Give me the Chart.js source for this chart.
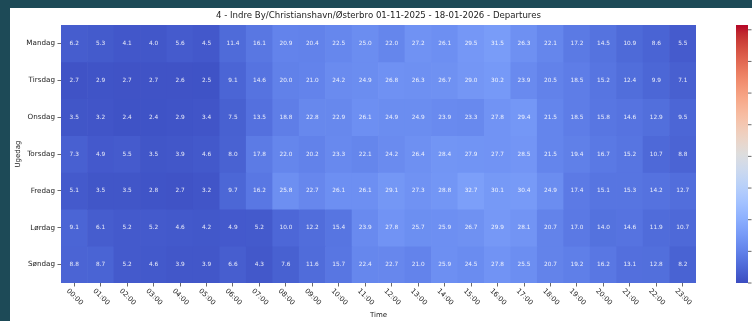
<!DOCTYPE html>
<html>
<head>
<meta charset="utf-8">
<script src="https://cdn.jsdelivr.net/npm/chart.js@4.4.1/dist/chart.umd.min.js"></script>
<style>
    html, body { margin: 0; padding: 0; }
    body { width: 752px; height: 321px; background: #1d4a57; position: relative; overflow: hidden; }
    .panel { position: absolute; left: 10px; top: 8px; width: 742px; height: 313px; background: #fff; }
    canvas { display: block; }
</style>
</head>
<body>
<div class="panel"><canvas id="heatmap" width="742" height="313"></canvas></div>
<script>
const title = '4 - Indre By/Christianshavn/Østerbro 01-11-2025 - 18-01-2026 - Departures';
const days = ['Mandag', 'Tirsdag', 'Onsdag', 'Torsdag', 'Fredag', 'Lørdag', 'Søndag'];
const hours = ['00:00', '01:00', '02:00', '03:00', '04:00', '05:00', '06:00', '07:00',
    '08:00', '09:00', '10:00', '11:00', '12:00', '13:00', '14:00', '15:00',
    '16:00', '17:00', '18:00', '19:00', '20:00', '21:00', '22:00', '23:00'];

const mandag  = [6.2, 5.3, 4.1, 4.0, 5.6, 4.5, 11.4, 16.1, 20.9, 20.4, 22.5, 25.0, 22.0, 27.2, 26.1, 29.5, 31.5, 26.3, 22.1, 17.2, 14.5, 10.9, 8.6, 5.5];
const tirsdag = [2.7, 2.9, 2.7, 2.7, 2.6, 2.5, 9.1, 14.6, 20.0, 21.0, 24.2, 24.9, 26.8, 26.3, 26.7, 29.0, 30.2, 23.9, 20.5, 18.5, 15.2, 12.4, 9.9, 7.1];
const onsdag  = [3.5, 3.2, 2.4, 2.4, 2.9, 3.4, 7.5, 13.5, 18.8, 22.8, 22.9, 26.1, 24.9, 24.9, 23.9, 23.3, 27.8, 29.4, 21.5, 18.5, 15.8, 14.6, 12.9, 9.5];
const torsdag = [7.3, 4.9, 5.5, 3.5, 3.9, 4.6, 8.0, 17.8, 22.0, 20.2, 23.3, 22.1, 24.2, 26.4, 28.4, 27.9, 27.7, 28.5, 21.5, 19.4, 16.7, 15.2, 10.7, 8.8];
const fredag  = [5.1, 3.5, 3.5, 2.8, 2.7, 3.2, 9.7, 16.2, 25.8, 22.7, 26.1, 26.1, 29.1, 27.3, 28.8, 32.7, 30.1, 30.4, 24.9, 17.4, 15.1, 15.3, 14.2, 12.7];
const loerdag = [9.1, 6.1, 5.2, 5.2, 4.6, 4.2, 4.9, 5.2, 10.0, 12.2, 15.4, 23.9, 27.8, 25.7, 25.9, 26.7, 29.9, 28.1, 20.7, 17.0, 14.0, 14.6, 11.9, 10.7];
const soendag = [8.8, 8.7, 5.2, 4.6, 3.9, 3.9, 6.6, 4.3, 7.6, 11.6, 15.7, 22.4, 22.7, 21.0, 25.9, 24.5, 27.8, 25.5, 20.7, 19.2, 16.2, 13.1, 12.8, 8.2];
const rows = [mandag, tirsdag, onsdag, torsdag, fredag, loerdag, soendag];

// colour scale (shared scale, colorbar is cut off on the right)
const colorMin = 0;
const colorMax = 163;
const colorTicks = [0, 20, 40, 60, 80, 100, 120, 140, 160];

// matplotlib coolwarm
const coolwarmStops = [
    [59, 76, 192], [68, 90, 204], [77, 104, 215], [87, 117, 225], [98, 130, 234],
    [108, 142, 241], [119, 154, 247], [130, 165, 251], [141, 176, 254], [152, 185, 255],
    [163, 194, 255], [174, 201, 253], [184, 208, 249], [194, 213, 244], [204, 217, 238],
    [213, 219, 230], [221, 221, 221], [229, 216, 209], [236, 211, 197], [241, 204, 185],
    [245, 196, 173], [247, 187, 160], [247, 177, 148], [247, 166, 135], [244, 154, 123],
    [241, 141, 111], [236, 127, 99], [229, 112, 88], [222, 96, 77], [213, 80, 66],
    [203, 62, 56], [192, 40, 47], [180, 4, 38]
];

function coolwarm(t) {
    t = Math.max(0, Math.min(1, t));
    const pos = t * (coolwarmStops.length - 1);
    const i = Math.min(Math.floor(pos), coolwarmStops.length - 2);
    const f = pos - i;
    const a = coolwarmStops[i], b = coolwarmStops[i + 1];
    const c = a.map((v, k) => Math.round(v + (b[k] - v) * f));
    return `rgb(${c[0]}, ${c[1]}, ${c[2]})`;
}

const valueColor = v => coolwarm((v - colorMin) / (colorMax - colorMin));

const FONT = "'DejaVu Sans', sans-serif";
const TEXT = '#222222';

const cellLabels = {
    id: 'cellLabels',
    afterDatasetsDraw(chart) {
        const ctx = chart.ctx;
        ctx.save();
        ctx.font = `5.8px ${FONT}`;
        ctx.fillStyle = 'rgba(255, 255, 255, 0.88)';
        ctx.textAlign = 'center';
        ctx.textBaseline = 'middle';
        chart.data.datasets.forEach((ds, i) => {
            chart.getDatasetMeta(i).data.forEach((bar, j) => {
                ctx.fillText(rows[i][j].toFixed(1), bar.x, (bar.y + bar.base) / 2);
            });
        });
        ctx.restore();
    }
};

const rotatedHours = {
    id: 'rotatedHours',
    afterDraw(chart) {
        const scale = chart.scales.x;
        const ctx = chart.ctx;
        const y = chart.chartArea.bottom + 14;
        ctx.save();
        ctx.font = `7px ${FONT}`;
        ctx.fillStyle = TEXT;
        ctx.textAlign = 'center';
        ctx.textBaseline = 'middle';
        hours.forEach((h, i) => {
            ctx.save();
            ctx.translate(scale.getPixelForTick(i) + 0.5, y);
            ctx.rotate(Math.PI / 4);
            ctx.fillText(h, 0, 0);
            ctx.restore();
        });
        ctx.restore();
    }
};

const colorbar = {
    id: 'colorbar',
    afterDraw(chart) {
        const { top, bottom, right } = chart.chartArea;
        const ctx = chart.ctx;
        const x0 = right + 40;
        const w = 12;
        const grad = ctx.createLinearGradient(0, bottom, 0, top);
        coolwarmStops.forEach((c, k) => {
            grad.addColorStop(k / (coolwarmStops.length - 1), `rgb(${c[0]}, ${c[1]}, ${c[2]})`);
        });
        ctx.save();
        ctx.fillStyle = grad;
        ctx.fillRect(x0, top, w, bottom - top);
        ctx.strokeStyle = '#444';
        ctx.lineWidth = 0.8;
        ctx.font = `7px ${FONT}`;
        ctx.fillStyle = TEXT;
        ctx.textBaseline = 'middle';
        colorTicks.forEach(v => {
            const y = bottom - (v - colorMin) / (colorMax - colorMin) * (bottom - top);
            ctx.beginPath();
            ctx.moveTo(x0 + w, y);
            ctx.lineTo(x0 + w + 3.5, y);
            ctx.stroke();
            ctx.fillText(String(v), x0 + w + 6, y);
        });
        ctx.restore();
    }
};

const ctx = document.getElementById('heatmap').getContext('2d');

new Chart(ctx, {
    type: 'bar',
    data: {
        labels: hours,
        datasets: rows.map((vals, i) => ({
            label: days[i],
            data: vals.map(() => [i, i + 1]),
            backgroundColor: vals.map(valueColor),
            borderWidth: 0,
            borderSkipped: false,
            barPercentage: 1,
            categoryPercentage: 1,
            grouped: false
        }))
    },
    options: {
        responsive: false,
        animation: false,
        layout: { padding: { top: 0, right: 56, bottom: 0, left: 0 } },
        plugins: {
            legend: { display: false },
            tooltip: { enabled: false },
            title: {
                display: true,
                text: title,
                fullSize: false,
                color: TEXT,
                font: { family: FONT, size: 8.6, weight: 'normal' },
                padding: { top: 3, bottom: 3.7 }
            }
        },
        scales: {
            x: {
                grid: { display: true, drawOnChartArea: false, offset: false, tickLength: 3.5, color: '#444', lineWidth: 0.8 },
                border: { display: false },
                ticks: { display: false },
                title: {
                    display: true,
                    text: 'Time',
                    color: TEXT,
                    font: { family: FONT, size: 7 },
                    padding: { top: 0, bottom: 2 }
                },
                afterFit(scale) { scale.height = 38; }
            },
            y: {
                type: 'linear',
                min: 0,
                max: 7,
                reverse: true,
                afterBuildTicks(scale) {
                    scale.ticks = days.map((d, i) => ({ value: i + 0.5 }));
                },
                grid: { display: true, drawOnChartArea: false, tickLength: 3.5, color: '#444', lineWidth: 0.8 },
                border: { display: false },
                ticks: {
                    color: TEXT,
                    padding: 2.5,
                    font: { family: FONT, size: 7.2 },
                    autoSkip: false,
                    callback: value => days[Math.floor(value)]
                },
                title: {
                    display: true,
                    text: 'Ugedag',
                    color: TEXT,
                    font: { family: FONT, size: 7 },
                    padding: { top: 4, bottom: 4 }
                },
                afterFit(scale) { scale.width = 51; }
            }
        }
    },
    plugins: [cellLabels, rotatedHours, colorbar]
});
</script>
</body>
</html>
